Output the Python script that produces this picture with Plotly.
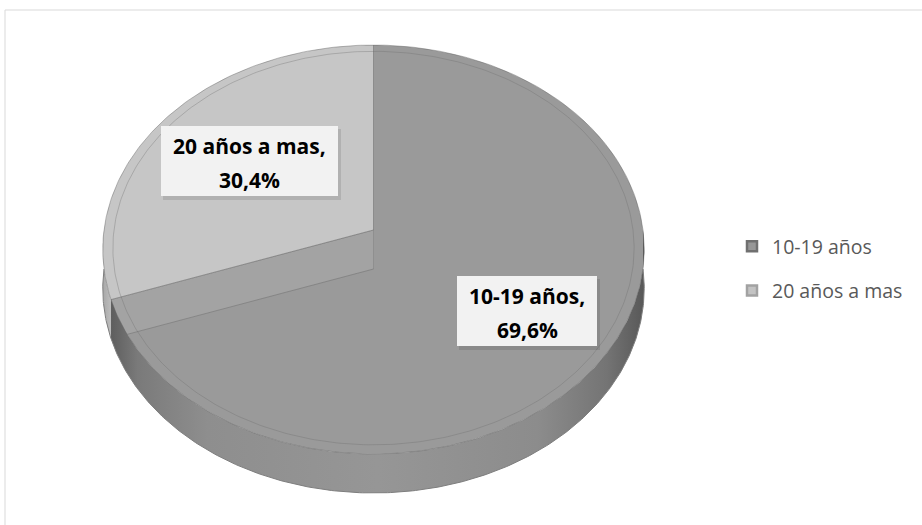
import numpy as np
import plotly.graph_objects as go

# Data
categories = ["10-19 años", "20 años a mas"]
shares = [69.6, 30.4]

# Colours per slice: top face, legend outer, legend inner
face_colors = ["#9a9a9a", "#c6c6c6"]
legend_outer = ["#707070", "#a2a2a2"]
legend_inner = ["#979797", "#c3c3c3"]

W, H = 922, 525

# Tilted-pie projection (pixel space)
CX, CY = 373.5, 230
A, B, K = 269.5, 202.6, 0.0954
DEPTH = 39


def project(theta_deg, scale=1.0, drop=0.0):
    t = np.radians(np.asarray(theta_deg, dtype=float))
    u, v = scale * np.cos(t), scale * np.sin(t)
    d = 1 + K * v
    return CX + A * u / d, CY - B * v / d + drop


# slice angles, starting at 12 o'clock and going clockwise
bounds = [90.0]
for s in shares:
    bounds.append(bounds[-1] - s * 3.6)
cut = bounds[1] + 360  # boundary angle expressed in 180..360

fig = go.Figure()

# 10-19 años top face
th = np.linspace(bounds[0], bounds[1], 300)
ax, ay = project(th)
fig.add_trace(go.Scatter(
    x=np.r_[CX, ax, CX], y=np.r_[CY, ay, CY], mode="lines", fill="toself",
    fillcolor=face_colors[0], line=dict(width=0), hoverinfo="skip", showlegend=False))

# cut face under the slice boundary
ex, ey = project(bounds[1])
fig.add_trace(go.Scatter(
    x=[CX, float(ex), float(ex), CX, CX],
    y=[CY, float(ey), float(ey) + DEPTH, CY + DEPTH, CY],
    mode="lines", fill="toself", fillcolor="#a3a3a3",
    line=dict(width=0), hoverinfo="skip", showlegend=False))
fig.add_trace(go.Scatter(
    x=[CX, float(ex)], y=[CY + DEPTH, float(ey) + DEPTH], mode="lines",
    line=dict(color="rgba(110,110,110,0.5)", width=1), hoverinfo="skip", showlegend=False))
fig.add_trace(go.Scatter(
    x=[CX, CX], y=[CY, CY + DEPTH], mode="lines",
    line=dict(color="rgba(120,120,120,0.4)", width=1), hoverinfo="skip", showlegend=False))


def wall(t0, t1, **fill):
    tw = np.linspace(t0, t1, 300)
    tx, ty = project(tw)
    bx, by = project(tw[::-1], drop=DEPTH)
    return go.Scatter(
        x=np.r_[tx, bx, tx[0]], y=np.r_[ty, by, ty[0]], mode="lines", fill="toself",
        line=dict(width=0), hoverinfo="skip", showlegend=False, **fill)


# side walls: light one under the smaller slice, shaded one under the larger slice
fig.add_trace(wall(180, cut, fillgradient=dict(type="horizontal", colorscale=[
    [0.0, "#a8a8a8"], [1.0, "#bdbdbd"]])))
fig.add_trace(wall(cut, 360, fillgradient=dict(type="horizontal", colorscale=[
    [0.0, "#5e5e5e"], [0.05, "#7a7a7a"], [0.18, "#8e8e8e"], [0.5, "#969696"],
    [0.8, "#8c8c8c"], [0.93, "#747474"], [1.0, "#585858"]])))
tb = np.linspace(180, 360, 300)
bx, by = project(tb, drop=DEPTH)
fig.add_trace(go.Scatter(
    x=bx, y=by, mode="lines", line=dict(color="#7e7e7e", width=1),
    hoverinfo="skip", showlegend=False))

# 20 años a mas top face
th2 = np.linspace(bounds[1], bounds[2], 200)
bx2, by2 = project(th2)
fig.add_trace(go.Scatter(
    x=np.r_[CX, bx2, CX], y=np.r_[CY, by2, CY], mode="lines", fill="toself",
    fillcolor=face_colors[1], line=dict(width=0), hoverinfo="skip", showlegend=False))

# bevel ring and outlines
ti = np.linspace(0, 360, 400)
ix, iy = project(ti, scale=0.963)
fig.add_trace(go.Scatter(
    x=ix, y=iy, mode="lines", line=dict(color="rgba(110,110,110,0.35)", width=1),
    hoverinfo="skip", showlegend=False))
ox, oy = project(ti)
fig.add_trace(go.Scatter(
    x=ox, y=oy, mode="lines", line=dict(color="rgba(100,100,100,0.45)", width=1),
    hoverinfo="skip", showlegend=False))
for b in bounds[:2]:
    px_, py_ = project(b)
    fig.add_trace(go.Scatter(
        x=[CX, float(px_)], y=[CY, float(py_)], mode="lines",
        line=dict(color="rgba(100,100,100,0.6)", width=1),
        hoverinfo="skip", showlegend=False))

# legend entries
for i, name in enumerate(categories):
    fig.add_trace(go.Scatter(
        x=[None], y=[None], mode="markers", name=name, legendgroup=name,
        marker=dict(symbol="square", size=10, color=legend_inner[i],
                    line=dict(color=legend_outer[i], width=2.5)),
        hoverinfo="skip"))

# data labels
label_boxes = [(457, 276, 597, 346), (161, 126, 338, 196)]
shapes = [dict(type="rect", xref="x", yref="y", x0=5, y0=10, x1=W + 10, y1=H + 10,
               line=dict(color="#d9d9d9", width=1), fillcolor="rgba(0,0,0,0)", layer="below")]
annotations = []
for i, (name, s) in enumerate(zip(categories, shares)):
    x0, y0, x1, y1 = label_boxes[i]
    shapes.append(dict(type="rect", xref="x", yref="y", x0=x0 + 2, y0=y0 + 3, x1=x1 + 3, y1=y1 + 4,
                       line=dict(width=0), fillcolor="rgba(0,0,0,0.10)", layer="above"))
    shapes.append(dict(type="rect", xref="x", yref="y", x0=x0, y0=y0, x1=x1, y1=y1,
                       line=dict(width=0), fillcolor="#f2f2f2", layer="above"))
    pct = f"{s:.1f}".replace(".", ",") + "%"
    xm = (x0 + x1) / 2
    for txt, yy in ((name + ",", y0 + 20), (pct, y0 + 54)):
        annotations.append(dict(
            x=xm, y=yy, xref="x", yref="y", text=f"<b>{txt}</b>", showarrow=False,
            font=dict(family="Open Sans", size=21, color="#000000"),
            xanchor="center", yanchor="middle"))

fig.update_layout(
    width=W, height=H, margin=dict(l=0, r=0, t=0, b=0),
    paper_bgcolor="white", plot_bgcolor="white",
    xaxis=dict(range=[0, W], visible=False, fixedrange=True),
    yaxis=dict(range=[H, 0], visible=False, fixedrange=True),
    shapes=shapes, annotations=annotations,
    legend=dict(x=732 / W, y=1 - 227 / H, xanchor="left", yanchor="top",
                font=dict(family="Open Sans", size=19.5, color="#595959"),
                tracegroupgap=16, bgcolor="rgba(0,0,0,0)", itemclick=False),
    showlegend=True,
)

fig.write_html("out.html")
